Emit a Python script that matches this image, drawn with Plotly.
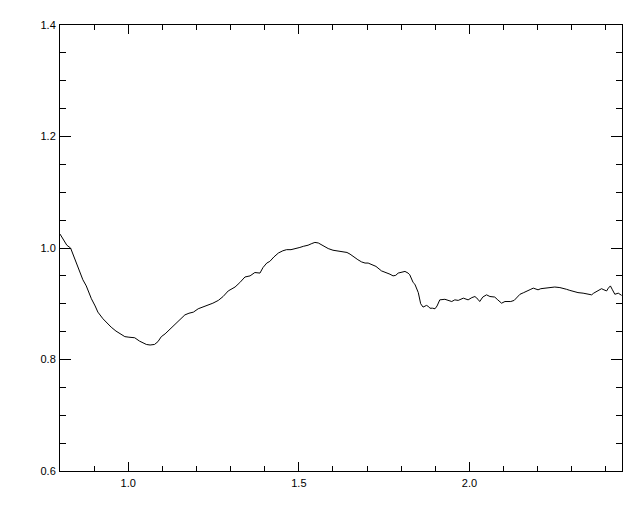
import plotly.graph_objects as go

wavelength = [0.800, 0.812, 0.820, 0.831, 0.841, 0.850, 0.858, 0.867, 0.877, 0.892,
              0.903, 0.911, 0.926, 0.938, 0.950, 0.964, 0.980, 0.990, 1.002, 1.019,
              1.033, 1.053, 1.064, 1.077, 1.087, 1.097, 1.108, 1.120, 1.137, 1.152,
              1.166, 1.178, 1.191, 1.205, 1.219, 1.234, 1.248, 1.264, 1.278, 1.293,
              1.313, 1.327, 1.342, 1.357, 1.371, 1.386, 1.395, 1.406, 1.415, 1.427,
              1.440, 1.453, 1.464, 1.477, 1.493, 1.503, 1.513, 1.527, 1.538, 1.547,
              1.557, 1.571, 1.586, 1.600, 1.614, 1.630, 1.641, 1.650, 1.664, 1.673,
              1.684, 1.694, 1.703, 1.714, 1.726, 1.742, 1.757, 1.767, 1.776, 1.784,
              1.791, 1.802, 1.811, 1.820, 1.825, 1.835, 1.840, 1.850, 1.857, 1.864,
              1.874, 1.880, 1.884, 1.892, 1.899, 1.905, 1.913, 1.928, 1.937, 1.948,
              1.957, 1.967, 1.982, 1.996, 2.007, 2.016, 2.025, 2.030, 2.039, 2.050,
              2.060, 2.074, 2.083, 2.094, 2.104, 2.113, 2.121, 2.131, 2.139, 2.148,
              2.159, 2.172, 2.180, 2.187, 2.195, 2.201, 2.209, 2.221, 2.236, 2.250,
              2.265, 2.274, 2.284, 2.294, 2.304, 2.318, 2.333, 2.344, 2.358, 2.364,
              2.372, 2.379, 2.387, 2.394, 2.402, 2.407, 2.413, 2.419, 2.426, 2.436,
              2.441, 2.446]

reflectance = [1.025, 1.014, 1.005, 1.000, 0.984, 0.968, 0.956, 0.943, 0.932, 0.909,
               0.896, 0.885, 0.873, 0.865, 0.858, 0.851, 0.844, 0.841, 0.840, 0.839,
               0.833, 0.827, 0.826, 0.827, 0.832, 0.841, 0.846, 0.853, 0.864, 0.873,
               0.880, 0.883, 0.885, 0.891, 0.894, 0.898, 0.901, 0.906, 0.913, 0.923,
               0.930, 0.938, 0.948, 0.950, 0.956, 0.955, 0.965, 0.973, 0.976, 0.984,
               0.991, 0.995, 0.997, 0.997, 0.999, 1.001, 1.003, 1.005, 1.008, 1.010,
               1.009, 1.004, 0.999, 0.996, 0.995, 0.993, 0.992, 0.989, 0.982, 0.979,
               0.975, 0.973, 0.973, 0.970, 0.967, 0.959, 0.956, 0.953, 0.950, 0.951,
               0.955, 0.957, 0.958, 0.955, 0.952, 0.938, 0.935, 0.920, 0.900, 0.894,
               0.897, 0.895, 0.892, 0.892, 0.891, 0.896, 0.907, 0.908, 0.906, 0.904,
               0.907, 0.906, 0.910, 0.907, 0.911, 0.913, 0.908, 0.904, 0.912, 0.916,
               0.913, 0.912, 0.907, 0.901, 0.904, 0.904, 0.904, 0.906, 0.912, 0.917,
               0.920, 0.923, 0.926, 0.928, 0.927, 0.925, 0.927, 0.928, 0.929, 0.930,
               0.929, 0.928, 0.926, 0.924, 0.922, 0.920, 0.919, 0.918, 0.916, 0.919,
               0.922, 0.925, 0.927, 0.925, 0.923, 0.928, 0.932, 0.925, 0.917, 0.919,
               0.917, 0.915]

x_tickvals = [1.0, 1.5, 2.0]
x_ticktext = ["1.0", "1.5", "2.0"]
y_tickvals = [0.6, 0.8, 1.0, 1.2, 1.4]
y_ticktext = ["0.6", "0.8", "1.0", "1.2", "1.4"]

fig = go.Figure()
fig.add_trace(go.Scatter(x=wavelength, y=reflectance, mode="lines",
                         line=dict(color="black", width=1), showlegend=False,
                         hoverinfo="skip"))

font = dict(family="Liberation Sans, Arial, sans-serif", size=11, color="black")

fig.update_layout(
    width=632, height=504,
    margin=dict(l=52, r=18, t=11, b=41, pad=0),
    paper_bgcolor="white", plot_bgcolor="white",
    font=font,
    xaxis=dict(range=[0.8, 2.447], tickmode="array", tickvals=x_tickvals,
               ticktext=x_ticktext, ticks="inside", ticklen=9, tickwidth=1,
               tickcolor="black", showline=True, linecolor="black", linewidth=1,
               mirror="ticks", showgrid=False, zeroline=False,
               minor=dict(tickmode="linear", tick0=0.8, dtick=0.1, ticks="inside",
                          ticklen=5, tickcolor="black", tickwidth=1, showgrid=False),
               tickfont=font, ticklabelstandoff=2),
    yaxis=dict(range=[0.6, 1.4], tickmode="array", tickvals=y_tickvals,
               ticktext=y_ticktext, ticks="inside", ticklen=11, tickwidth=1,
               tickcolor="black", showline=True, linecolor="black", linewidth=1,
               mirror="ticks", showgrid=False, zeroline=False,
               minor=dict(tickmode="linear", tick0=0.6, dtick=0.05, ticks="inside",
                          ticklen=6, tickcolor="black", tickwidth=1, showgrid=False),
               tickfont=font, ticklabelstandoff=1),
)

fig.write_html("out.html")
